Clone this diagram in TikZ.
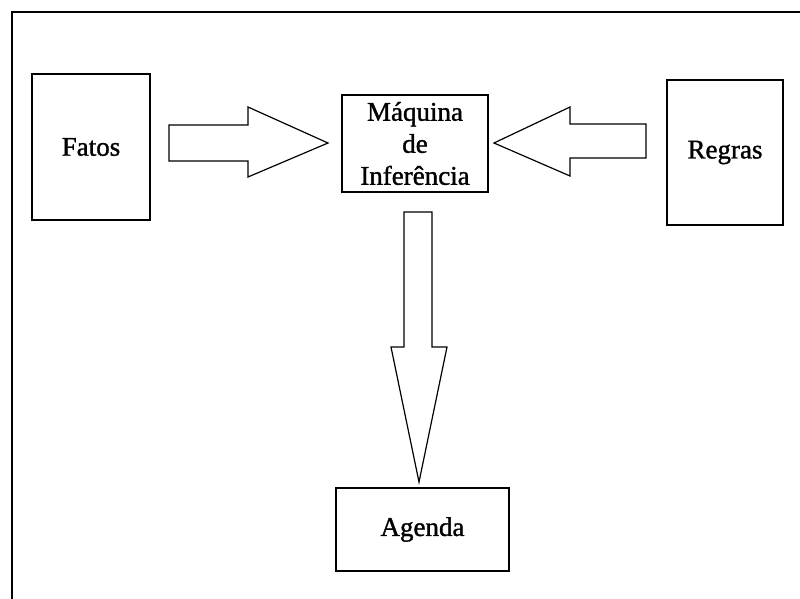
\documentclass[tikz,border=0pt]{standalone}
\usepackage{fontspec}
\setmainfont{Liberation Serif}[FakeBold=1.2]
\usepackage{tikz}
\usetikzlibrary{positioning}

\begin{document}
\begin{tikzpicture}[
    x=1pt, y=-1pt,
    every node/.style={font=\fontsize{27}{32}\selectfont},
    box/.style={draw, line width=1.2pt, inner sep=0pt, align=center},
    fatarrow/.style={draw, line width=1.2pt, line join=miter},
]
  \useasboundingbox (0,0) rectangle (800,599);
  % outer frame (only top and left edges fall inside the page)
  \draw[line width=1.4pt] (800,12) -- (12,12) -- (12,599);

  \node[box, minimum width=118pt, minimum height=146pt] (fatos) at (91,147) {Fatos};
  \node[box, minimum width=146pt, minimum height=97pt] (maquina) at (415,143.5)
        {Máquina\\de\\Inferência};
  \node[box, minimum width=116pt, minimum height=145pt] (regras) at (725,152.5) {Regras};
  \node[box, minimum width=173pt, minimum height=83pt] (agenda) at (422.5,529.5) {Agenda};

  % fatos -> maquina
  \draw[fatarrow] (169,125) -- (248,125) -- (248,107) -- (328,143)
        -- (248,177) -- (248,161) -- (169,161) -- cycle;
  % regras -> maquina
  \draw[fatarrow] (646,124) -- (570,124) -- (570,107) -- (494,143)
        -- (570,176) -- (570,158) -- (646,158) -- cycle;
  % maquina -> agenda
  \draw[fatarrow] (404,212) -- (404,347) -- (391,347) -- (419,482)
        -- (447,347) -- (432,347) -- (432,212) -- cycle;
\end{tikzpicture}
\end{document}
